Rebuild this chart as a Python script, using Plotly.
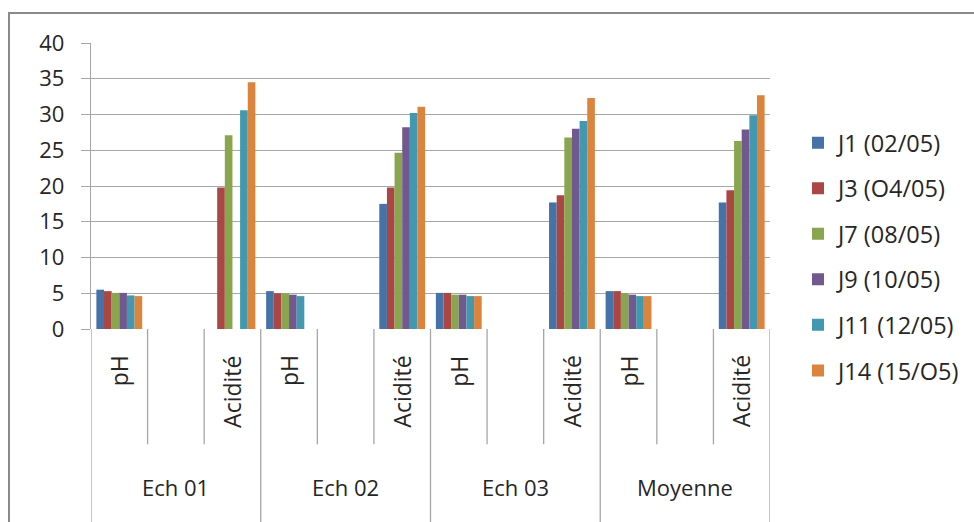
import plotly.graph_objects as go

# Category structure: each sample has pH, an empty slot, and Acidité
groups = ["Ech 01", "Ech 02", "Ech 03", "Moyenne"]
inner = ["pH", "", "Acidité"]

series_names = ["J1 (02/05)", "J3 (O4/05)", "J7 (08/05)", "J9 (10/05)", "J11 (12/05)", "J14 (15/O5)"]

# pH values per sample (Ech 01, Ech 02, Ech 03, Moyenne)
ph_values = {
    "J1 (02/05)":  [5.5, 5.3, 5.05, 5.3],
    "J3 (O4/05)":  [5.3, 5.0, 5.05, 5.3],
    "J7 (08/05)":  [5.05, 5.0, 4.8, 5.0],
    "J9 (10/05)":  [5.05, 4.8, 4.8, 4.8],
    "J11 (12/05)": [4.7, 4.6, 4.6, 4.6],
    "J14 (15/O5)": [4.6, None, 4.6, 4.6],
}
# Acidité values per sample
acid_values = {
    "J1 (02/05)":  [None, 17.5, 17.7, 17.7],
    "J3 (O4/05)":  [19.8, 19.8, 18.7, 19.4],
    "J7 (08/05)":  [27.1, 24.65, 26.8, 26.3],
    "J9 (10/05)":  [None, 28.2, 28.0, 27.9],
    "J11 (12/05)": [30.6, 30.2, 29.1, 29.9],
    "J14 (15/O5)": [34.5, 31.1, 32.3, 32.7],
}
colors = ["#4572A7", "#AA4643", "#89A54E", "#71588F", "#4198AF", "#DB843D"]

y_ticks = [0, 5, 10, 15, 20, 25, 30, 35, 40]

FONT = "Open Sans"
TXT = "#262626"
GRID = "#A6A6A6"

n_inner = len(inner)
n_cat = len(groups) * n_inner
positions = list(range(n_cat))

fig = go.Figure()
for name, col in zip(series_names, colors):
    ys = []
    for g in range(len(groups)):
        ys += [ph_values[name][g], None, acid_values[name][g]]
    fig.add_trace(go.Bar(
        x=positions, y=ys, name=name, legendgroup=name,
        marker=dict(color=col, line=dict(width=0)),
    ))

# plot area geometry (pixels)
W, H = 974, 522
L, R, T, B = 91, 770, 43, 329.5
ph = B - T
pw = R - L


def py(pix):
    return (B - pix) / ph


def px(pix):
    return (pix - L) / pw


shapes = []
# category dividers below the axis
for i in range(n_cat + 1):
    outer_edge = (i % n_inner == 0)
    shapes.append(dict(
        type="line", xref="x", yref="paper",
        x0=i - 0.5, x1=i - 0.5, y0=0, y1=py(530 if outer_edge else 445),
        line=dict(color=GRID, width=1.3),
    ))
# outer chart frame
shapes.append(dict(
    type="rect", xref="paper", yref="paper",
    x0=px(9), x1=px(990), y0=py(13), y1=py(540),
    line=dict(color="#8A8A8A", width=2), fillcolor="rgba(0,0,0,0)", layer="below",
))

annotations = []
for g, gname in enumerate(groups):
    for j, lab in enumerate(inner):
        if lab:
            annotations.append(dict(
                x=g * n_inner + j, y=py(354), xref="x", yref="paper",
                text=lab, textangle=-90, showarrow=False,
                xanchor="center", yanchor="top",
                font=dict(family=FONT, size=23, color=TXT),
            ))
    annotations.append(dict(
        x=g * n_inner + (n_inner - 1) / 2, y=py(488), xref="x", yref="paper",
        text=gname, showarrow=False, xanchor="center", yanchor="middle",
        font=dict(family=FONT, size=22, color=TXT),
    ))

fig.update_layout(
    width=W, height=H,
    margin=dict(l=L, r=W - R, t=T, b=H - B, pad=0, autoexpand=False),
    paper_bgcolor="white", plot_bgcolor="white",
    barmode="group", bargap=0.19, bargroupgap=0,
    font=dict(family=FONT, size=22, color=TXT),
    xaxis=dict(
        range=[-0.5, n_cat - 0.5], showticklabels=False, showgrid=False,
        zeroline=False, showline=False, ticks="", fixedrange=True,
    ),
    yaxis=dict(
        range=[0, 40], tickvals=y_ticks, ticks="outside", ticklen=9,
        tickcolor=GRID, tickwidth=1.3, showgrid=True, gridcolor=GRID, gridwidth=1.3,
        showline=True, linecolor=GRID, linewidth=1.3, zeroline=False,
        tickfont=dict(family=FONT, size=22, color=TXT), ticklabelstandoff=12,
    ),
    legend=dict(
        x=px(798), y=py(121), xanchor="left", yanchor="top",
        font=dict(family=FONT, size=23.5, color=TXT),
        tracegroupgap=12, itemwidth=30, bgcolor="rgba(0,0,0,0)",
    ),
    shapes=shapes,
    annotations=annotations,
    showlegend=True,
)

fig.write_html("out.html")
